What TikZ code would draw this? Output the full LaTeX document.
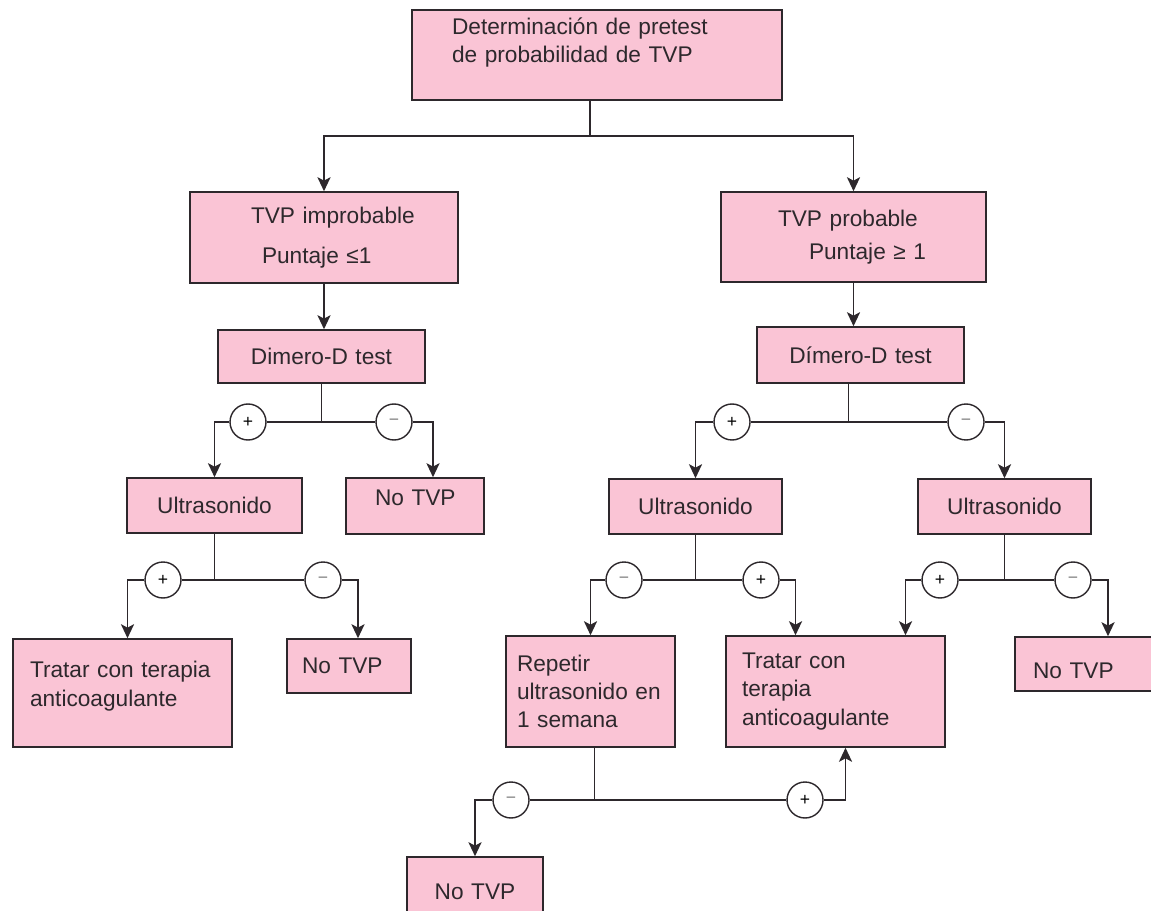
\documentclass[tikz,border=0pt]{standalone}
\usepackage{fontspec}
\setmainfont{Liberation Sans}
\usetikzlibrary{arrows.meta,calc}

\definecolor{boxpink}{RGB}{250,196,213}
\definecolor{linegray}{RGB}{45,40,44}

\begin{document}
\begin{tikzpicture}[x=0.02cm,y=-0.02cm,
	box/.style={draw=linegray,fill=boxpink,line width=0.9pt,inner xsep=0pt,inner ysep=0pt,
		align=left,text=linegray,font=\fontsize{12.9pt}{16pt}\selectfont},
	sign/.style={circle,draw=linegray,fill=white,line width=0.8pt,minimum size=0.72cm,
		inner sep=0pt,font=\fontsize{10pt}{12pt}\selectfont},
	conn/.style={draw=linegray,line width=0.9pt},
	arr/.style={conn,-{Stealth[length=8pt,width=7.5pt,inset=2pt]}}]

	\path[use as bounding box] (0,0) rectangle (1151,911);
	\fill[white] (0,0) rectangle (1151,911);
	\clip (0,0) rectangle (1151,911);

	% first level
	\node[box,text width=7.4cm,minimum height=1.8cm,text depth=33pt] (pretest) at (597,55)
		{\hspace*{0.8cm}Determinación de pretest\\\hspace*{0.8cm}de probabilidad de TVP};

	\node[box,text width=5.36cm,minimum height=1.82cm] (improb) at (324,237.5)
		{\hspace*{1.22cm}TVP improbable\\[6.8pt]\hspace*{1.44cm}Puntaje ≤1};
	\node[box,text width=5.3cm,minimum height=1.8cm] (prob) at (853.5,237)
		{\hspace*{1.14cm}TVP probable\\[2.8pt]\hspace*{1.76cm}Puntaje ≥ 1};

	\coordinate (j0) at (590,136);
	\draw[conn] (pretest.south -| j0) -- (j0);
	\draw[arr] (j0) -| (improb.north);
	\draw[arr] (j0) -| (prob.north);

	% left branch
	\node[box,align=center,text width=4.14cm,minimum height=1.06cm] (dimL) at (321.5,356.5) {Dimero-D test};
	\node[box,align=center,text width=3.5cm,minimum height=1.1cm] (usL) at (214.5,505.5) {Ultrasonido};
	\node[box,text width=2.76cm,minimum height=1.12cm,text depth=9pt] (noL1) at (415,506) {\hspace*{0.58cm}No TVP};
	\node[box,text width=4.38cm,minimum height=2.16cm,text depth=26.5pt] (tratL) at (122.5,693)
		{\hspace*{0.34cm}Tratar con terapia\\\hspace*{0.34cm}anticoagulante};
	\node[box,text width=2.48cm,minimum height=1.08cm] (noL2) at (349,666) {\hspace*{0.3cm}No TVP};

	\node[sign] (pL) at (248,422) {+};
	\node[sign,text=gray] (mL) at (394,422) {−};
	\node[sign] (pL2) at (163,580) {+};
	\node[sign,text=gray] (mL2) at (323,580) {−};

	\draw[arr] (improb.south) -- (improb.south |- dimL.north);
	\draw[conn] (dimL.south) -- (dimL.south |- pL);
	\draw[conn] (pL) -- (mL);
	\draw[arr] (pL) -| (usL.north);
	\draw[arr] (mL) -| ($(noL1.north)+(18,0)$);
	\draw[conn] (usL.south) -- (usL.south |- pL2);
	\draw[conn] (pL2) -- (mL2);
	\draw[arr] (pL2) -| ($(tratL.north)+(5,0)$);
	\draw[arr] (mL2) -| ($(noL2.north)+(9,0)$);

	% right branch
	\node[box,align=center,text width=4.14cm,minimum height=1.12cm] (dimR) at (860.5,355) {Dímero-D test};
	\node[box,align=center,text width=3.46cm,minimum height=1.1cm] (usM) at (695.5,506.5) {Ultrasonido};
	\node[box,align=center,text width=3.46cm,minimum height=1.1cm] (usR) at (1004.5,506.5) {Ultrasonido};
	\node[box,text width=3.38cm,minimum height=2.22cm] (repetir) at (590.5,691.5)
		{\hspace*{0.22cm}Repetir\\\hspace*{0.22cm}ultrasonido en\\\hspace*{0.22cm}1 semana};
	\node[box,text width=4.38cm,minimum height=2.22cm] (tratR) at (835.5,691.5)
		{\hspace*{0.32cm}Tratar con\\\hspace*{0.32cm}terapia\\\hspace*{0.32cm}anticoagulante};
	\node[box,text width=3.0cm,minimum height=1.08cm,text height=17pt] (noR) at (1090,664) {\hspace*{0.36cm}No TVP};
	\node[box,align=center,text width=2.72cm,minimum height=1.4cm] (noB) at (475,892) {No TVP};

	\node[sign] (pR) at (732,422) {+};
	\node[sign,text=gray] (mR) at (966,422) {−};
	\node[sign,text=gray] (mM) at (624,580) {−};
	\node[sign] (pM) at (761,580) {+};
	\node[sign] (pR2) at (940,580) {+};
	\node[sign,text=gray] (mR2) at (1073,580) {−};
	\node[sign,text=gray] (mB) at (511,800) {−};
	\node[sign] (pB) at (805,800) {+};

	\draw[arr] (prob.south) -- (prob.south |- dimR.north);
	\coordinate (jR) at ($(dimR.south)+(-12,0)$);
	\draw[conn] (jR) -- (jR |- pR);
	\draw[conn] (pR) -- (mR);
	\draw[arr] (pR) -| (usM.north);
	\draw[arr] (mR) -| (usR.north);

	\draw[conn] (usM.south) -- (usM.south |- mM);
	\draw[conn] (mM) -- (pM);
	\draw[arr] (mM) -| (repetir.north);
	\draw[arr] (pM) -| ($(tratR.north)+(-40,0)$);

	\draw[conn] (usR.south) -- (usR.south |- pR2);
	\draw[conn] (pR2) -- (mR2);
	\draw[arr] (pR2) -| ($(tratR.north)+(70,0)$);
	\draw[arr] (mR2) -| ($(noR.north)+(18,0)$);

	\coordinate (jB) at ($(repetir.south)+(4,0)$);
	\draw[conn] (jB) -- (jB |- mB);
	\draw[conn] (mB) -- (pB);
	\draw[arr] (mB) -| (noB.north);
	\draw[arr] (pB) -| ($(tratR.south)+(10,0)$);

\end{tikzpicture}
\end{document}
